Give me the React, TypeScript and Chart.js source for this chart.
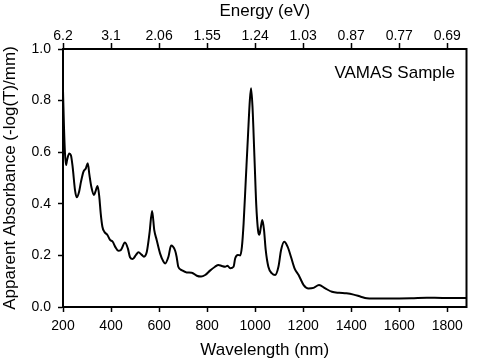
import React, { useEffect, useRef } from "react";
import { Chart, registerables } from "chart.js";

Chart.register(...registerables);

const wavelengths = [
  200, 204, 208, 212.5, 217, 226, 233, 240, 250, 257, 267, 275, 285, 295, 303, 310, 318, 329, 335, 344,
  351, 357, 364, 372, 385, 396, 407, 417, 430, 441, 458, 470, 479, 490, 504, 514, 528, 537, 549, 560,
  571, 580, 590, 604, 618, 625, 639, 650, 667, 673, 680, 694, 715, 736, 757, 775, 792, 812, 833, 847,
  861, 875, 885, 896, 910, 917, 928, 938, 945, 952, 961, 970, 978, 983, 989, 997, 1005, 1014, 1018, 1024,
  1030, 1037, 1044, 1055, 1070, 1083, 1097, 1108, 1121, 1135, 1149, 1164, 1181, 1202, 1222, 1243, 1266, 1292, 1320, 1350,
  1380, 1410, 1440, 1465, 1490, 1550, 1650, 1715, 1780, 1880,
];
const absorbance = [
  0.84, 0.7, 0.6, 0.55, 0.57, 0.595, 0.588, 0.544, 0.453, 0.425, 0.447, 0.486, 0.524, 0.537, 0.557, 0.512, 0.466, 0.434, 0.447, 0.469,
  0.428, 0.363, 0.311, 0.292, 0.279, 0.26, 0.253, 0.234, 0.218, 0.221, 0.25, 0.227, 0.193, 0.186, 0.202, 0.212, 0.202, 0.195, 0.214, 0.285,
  0.372, 0.298, 0.26, 0.208, 0.176, 0.169, 0.195, 0.238, 0.218, 0.195, 0.156, 0.143, 0.134, 0.133, 0.121, 0.118, 0.124, 0.141, 0.156, 0.163,
  0.159, 0.156, 0.16, 0.15, 0.156, 0.189, 0.202, 0.2, 0.234, 0.324, 0.492, 0.66, 0.802, 0.848, 0.776, 0.583, 0.389, 0.286, 0.28, 0.311,
  0.337, 0.298, 0.221, 0.156, 0.13, 0.124, 0.156, 0.221, 0.253, 0.234, 0.195, 0.15, 0.124, 0.085, 0.072, 0.074, 0.085, 0.072, 0.059, 0.055,
  0.053, 0.048, 0.04, 0.034, 0.033, 0.033, 0.034, 0.036, 0.035, 0.035,
];
const wavelengthTicks = [200, 400, 600, 800, 1000, 1200, 1400, 1600, 1800];
const energyLabels = ["6.2", "3.1", "2.06", "1.55", "1.24", "1.03", "0.87", "0.77", "0.69"];
const absorbanceTicks = [0, 0.2, 0.4, 0.6, 0.8, 1.0];
const sampleLabel = "VAMAS Sample";

const FONT = "'Liberation Sans', Arial, sans-serif";

export default function App() {
  const ref = useRef<HTMLCanvasElement>(null);
  useEffect(() => {
    document.body.style.margin = "0";
    const framePlugin = {
      id: "frame",
      afterDraw(chart: any) {
        const { ctx, chartArea } = chart;
        ctx.save();
        ctx.strokeStyle = "#000";
        ctx.lineWidth = 2;
        ctx.beginPath();
        ctx.moveTo(chartArea.right, chartArea.top - 1);
        ctx.lineTo(chartArea.right, chartArea.bottom + 1);
        ctx.stroke();
        ctx.fillStyle = "#000";
        ctx.font = `17px ${FONT}`;
        ctx.textAlign = "right";
        ctx.textBaseline = "alphabetic";
        ctx.fillText(sampleLabel, 455, 78);
        ctx.restore();
      },
    };
    const tickFont = { family: FONT, size: 14 };
    const titleFont = { family: FONT, size: 17 };
    const gridCfg = {
      drawOnChartArea: false,
      drawTicks: true,
      tickLength: 5,
      tickWidth: 1.5,
      tickColor: "#000",
    };
    const borderCfg = { display: true, color: "#000", width: 2 };
    const chart = new Chart(ref.current!, {
      type: "line",
      data: {
        datasets: [
          {
            data: wavelengths.map((x, i) => ({ x, y: absorbance[i] })),
            borderColor: "#000",
            borderWidth: 2,
            pointRadius: 0,
            cubicInterpolationMode: "monotone",
            fill: false,
          },
        ],
      },
      options: {
        animation: false,
        responsive: false,
        devicePixelRatio: 1,
        layout: { padding: { left: 0, right: 13.5, top: 0, bottom: 0 } },
        plugins: { legend: { display: false }, tooltip: { enabled: false } },
        scales: {
          x: {
            type: "linear",
            position: "bottom",
            min: 200,
            max: 1880,
            afterBuildTicks: (s: any) => {
              s.ticks = wavelengthTicks.map((v) => ({ value: v }));
            },
            afterFit: (s: any) => {
              s.height = 55;
            },
            ticks: {
              color: "#000",
              font: tickFont,
              padding: 6,
              maxRotation: 0,
              autoSkip: false,
              callback: (v: any) => String(v),
            },
            grid: gridCfg,
            border: borderCfg,
            title: {
              display: true,
              text: "Wavelength (nm)",
              color: "#000",
              font: titleFont,
              padding: { top: 0, bottom: 1 },
            },
          },
          x2: {
            type: "linear",
            axis: "x",
            position: "top",
            min: 200,
            max: 1880,
            afterBuildTicks: (s: any) => {
              s.ticks = wavelengthTicks.map((v) => ({ value: v }));
            },
            afterFit: (s: any) => {
              s.height = 49;
            },
            ticks: {
              color: "#000",
              font: tickFont,
              padding: -2,
              maxRotation: 0,
              autoSkip: false,
              callback: (v: any) => energyLabels[wavelengthTicks.indexOf(Number(v))] ?? "",
            },
            grid: { ...gridCfg, tickLength: 6 },
            border: borderCfg,
            title: {
              display: true,
              text: "Energy (eV)",
              color: "#000",
              font: titleFont,
              padding: { top: 1, bottom: 0 },
            },
          },
          y: {
            type: "linear",
            position: "left",
            min: 0,
            max: 1,
            afterBuildTicks: (s: any) => {
              s.ticks = absorbanceTicks.map((v) => ({ value: v }));
            },
            afterFit: (s: any) => {
              s.width = 63;
            },
            ticks: {
              color: "#000",
              font: tickFont,
              padding: 7,
              callback: (v: any) => Number(v).toFixed(1),
            },
            grid: gridCfg,
            border: borderCfg,
            title: {
              display: true,
              text: "Apparent Absorbance (-log(T)/mm)",
              color: "#000",
              font: titleFont,
              padding: { top: 0, bottom: 0 },
            },
          },
        },
      },
      plugins: [framePlugin],
    } as any);
    return () => chart.destroy();
  }, []);
  return <canvas ref={ref} width={480} height={362} style={{ display: "block" }} />;
}
